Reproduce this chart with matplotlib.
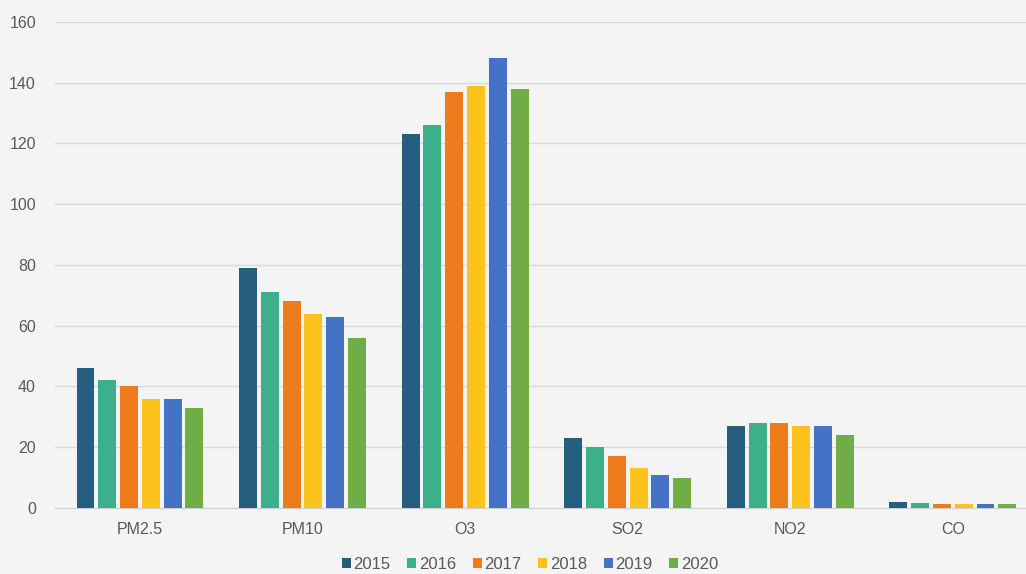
import numpy as np
import matplotlib.pyplot as plt

plt.rcParams['font.family'] = ['Liberation Sans', 'DejaVu Sans']

# data
categories = ['PM2.5', 'PM10', 'O3', 'SO2', 'NO2', 'CO']
years = ['2015', '2016', '2017', '2018', '2019', '2020']
v2015 = [46, 79, 123, 23, 27, 1.9]
v2016 = [42, 71, 126, 20, 28, 1.5]
v2017 = [40, 68, 137, 17, 28, 1.4]
v2018 = [36, 64, 139, 13, 27, 1.3]
v2019 = [36, 63, 148, 11, 27, 1.4]
v2020 = [33, 56, 138, 10, 24, 1.3]
colors = ['#255e7e', '#3cb08a', '#ee7b1c', '#fbc31b', '#4472c4', '#70ad47']

series = [v2015, v2016, v2017, v2018, v2019, v2020]

bg = '#f4f4f4'
fig = plt.figure(figsize=(10.26, 5.74), dpi=100, facecolor=bg)
ax = fig.add_axes([0.054, 0.115, 0.946, 0.847], facecolor=bg)

x = np.arange(len(categories))
step = 0.134
width = 0.11
for i, (vals, yr, c) in enumerate(zip(series, years, colors)):
    ax.bar(x + (i - 2.5) * step, vals, width, color=c, label=yr, zorder=3)

ax.set_xlim(-0.52, 5.45)
ax.set_ylim(0, 160)
ax.set_yticks(range(0, 161, 20))
ax.set_xticks(x)
ax.set_xticklabels(categories)
ax.grid(axis='y', color='#d9d9d9', linewidth=1, zorder=0)
for s in ['top', 'right', 'left']:
    ax.spines[s].set_visible(False)
ax.spines['bottom'].set_color('#cfcfcf')
ax.tick_params(axis='both', length=0, colors='#595959', labelsize=11.5)
ax.tick_params(axis='x', pad=10)
ax.tick_params(axis='y', pad=14)

leg = ax.legend(loc='center', bbox_to_anchor=(0.489, -0.117), ncol=6,
                frameon=False, fontsize=12, handlelength=0.55, handleheight=0.55,
                handletextpad=0.15, columnspacing=1.0)
for t in leg.get_texts():
    t.set_color('#595959')

fig.savefig('out.png', dpi=100, facecolor=bg)
